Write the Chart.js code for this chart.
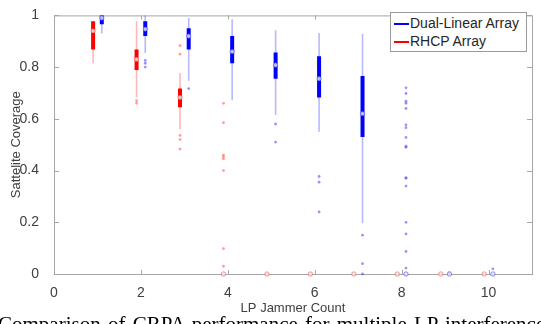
<!DOCTYPE html>
<html>
<head>
<meta charset="utf-8">
<script src="https://cdn.jsdelivr.net/npm/chart.js@4.4.1/dist/chart.umd.min.js"></script>
<style>
  html, body { margin: 0; padding: 0; background: #fff; overflow: hidden; }
  #wrap { position: relative; width: 541px; height: 324px; overflow: hidden; }
  #grafico { position: absolute; left: 0; top: 0; }
  #leyenda {
    position: absolute; left: 390px; top: 12px; width: 135px; height: 38px;
    border: 1px solid #9a9a9a; background: #fff;
    font: 14px "Liberation Sans", Arial, sans-serif; color: #262626;
  }
  #leyenda div { position: absolute; left: 19px; white-space: nowrap; }
  #leyenda span { position: absolute; left: -16px; top: 8px; width: 15px; height: 2px; }
  #caption {
    position: absolute; left: -2px; top: 314px; white-space: nowrap; word-spacing: 2px;
    font: 21px "Liberation Serif", "Times New Roman", serif; color: #000; line-height: 1;
  }
</style>
</head>
<body>
<div id="wrap">
  <canvas id="grafico" width="541" height="324"></canvas>
  <div id="leyenda">
    <div style="top:2px"><span style="background:#0000ff"></span>Dual-Linear Array</div>
    <div style="top:20px"><span style="background:#ff0000"></span>RHCP Array</div>
  </div>
  <div id="caption">Comparison of CRPA performance for multiple LP interference</div>
</div>
<script>
// datos
const conteos = [1, 2, 3, 4, 5, 6, 7, 8, 9, 10];
const ticksX = [0, 2, 4, 6, 8, 10];
const ticksY = [0, 0.2, 0.4, 0.6, 0.8, 1];
const etiquetasY = ["0", "0.2", "0.4", "0.6", "0.8", "1"];

// Dual-Linear Array
const dualMin = [0.93, 0.855, 0.747, 0.672, 0.615, 0.55, 0.196, 0, 0, 0];
const dualQ1  = [0.966, 0.92, 0.868, 0.815, 0.755, 0.683, 0.53, 0, 0, 0];
const dualMed = [0.99, 0.947, 0.92, 0.86, 0.808, 0.755, 0.62, 0, 0, 0];
const dualQ3  = [1.0, 0.977, 0.95, 0.92, 0.857, 0.842, 0.766, 0, 0, 0];
const dualMax = [1.0, 1.0, 0.99, 0.985, 0.943, 0.932, 0.928, 0, 0, 0];
const dualAtipicos = [
  [],
  [0.826, 0.815, 0.8],
  [0.717],
  [],
  [0.58, 0.51],
  [0.377, 0.355, 0.24],
  [0.15, 0.04, 0],
  [0.72, 0.698, 0.668, 0.66, 0.64, 0.577, 0.566, 0.528, 0.494, 0.49, 0.373, 0.37, 0.34, 0.2, 0.155, 0.087, 0.023],
  [0.004],
  [0.02]
];

// RHCP Array
const rhcpMin = [0.815, 0.683, 0.56, 0, 0, 0, 0, 0, 0, 0];
const rhcpQ1  = [0.868, 0.789, 0.645, 0, 0, 0, 0, 0, 0, 0];
const rhcpMed = [0.94, 0.83, 0.683, 0, 0, 0, 0, 0, 0, 0];
const rhcpQ3  = [0.977, 0.868, 0.717, 0, 0, 0, 0, 0, 0, 0];
const rhcpMax = [0.977, 0.977, 0.777, 0, 0, 0, 0, 0, 0, 0];
const rhcpAtipicos = [
  [],
  [0.67, 0.66],
  [0.883, 0.85, 0.536, 0.52, 0.483],
  [0.66, 0.585, 0.46, 0.453, 0.445, 0.4, 0.098, 0.03],
  [], [], [], [], [], []
];

const DESPLAZ = 0.1;

function segmentos(bajo, alto, off) {
  return conteos.flatMap((c, i) => [
    { x: c + off, y: bajo[i] },
    { x: c + off, y: alto[i] },
    { x: c + off, y: null }
  ]);
}

function puntos(valores, off) {
  return conteos.map((c, i) => ({ x: c + off, y: valores[i] }));
}

function atipicos(lista, off) {
  return conteos.flatMap((c, i) => lista[i].map(v => ({ x: c + off, y: v })));
}

function serie(min, q1, med, q3, max, outl, off, color, claro, tenue) {
  return [
    { data: segmentos(min, max, off), showLine: true, spanGaps: false, borderColor: claro,
      borderWidth: 1.6, pointRadius: 0, order: 3, clip: false },
    { data: segmentos(q1, q3, off), showLine: true, spanGaps: false, borderColor: color,
      borderWidth: 4, pointRadius: 0, order: 2, clip: false },
    { data: atipicos(outl, off), showLine: false, pointRadius: 1.4, pointBorderWidth: 0,
      pointBackgroundColor: tenue, order: 1, clip: false },
    { data: puntos(med, off), showLine: false, pointRadius: 2.2, pointBorderWidth: 1,
      pointBorderColor: tenue, pointBackgroundColor: "rgba(235,235,235,0.8)", order: 0, clip: false }
  ];
}

// marco estilo MATLAB con ticks hacia adentro
const marco = {
  id: "marco",
  beforeDatasetsDraw(chart) {
    const { ctx, chartArea: a, scales } = chart;
    ctx.save();
    ctx.strokeStyle = "#a6a6a6";
    ctx.lineWidth = 1;
    ctx.strokeRect(a.left + 0.5, a.top + 0.5, a.right - a.left, a.bottom - a.top);
    ctx.beginPath();
    ticksX.forEach(v => {
      const px = Math.round(scales.x.getPixelForValue(v)) + 0.5;
      ctx.moveTo(px, a.bottom); ctx.lineTo(px, a.bottom - 4);
      ctx.moveTo(px, a.top); ctx.lineTo(px, a.top + 4);
    });
    ticksY.forEach(v => {
      const py = Math.round(scales.y.getPixelForValue(v)) + 0.5;
      ctx.moveTo(a.left, py); ctx.lineTo(a.left + 5, py);
      ctx.moveTo(a.right, py); ctx.lineTo(a.right - 5, py);
    });
    ctx.stroke();
    ctx.restore();
  }
};

const fuente = { family: "'Liberation Sans', Arial, sans-serif" };

new Chart(document.getElementById("grafico"), {
  type: "scatter",
  data: {
    datasets: [
      ...serie(dualMin, dualQ1, dualMed, dualQ3, dualMax, dualAtipicos, DESPLAZ,
        "#0000ff", "rgba(0,0,255,0.28)", "rgba(60,60,255,0.55)"),
      ...serie(rhcpMin, rhcpQ1, rhcpMed, rhcpQ3, rhcpMax, rhcpAtipicos, -DESPLAZ,
        "#ff0000", "rgba(255,0,0,0.28)", "rgba(255,60,60,0.5)")
    ]
  },
  options: {
    responsive: false,
    animation: false,
    layout: { padding: { top: 8, right: 9, left: 0, bottom: 0 } },
    plugins: { legend: { display: false }, tooltip: { enabled: false } },
    scales: {
      x: {
        type: "linear", min: 0, max: 11,
        afterBuildTicks: s => { s.ticks = ticksX.map(v => ({ value: v })); },
        afterFit: s => { s.height = 50; },
        grid: { display: false }, border: { display: false },
        ticks: { color: "#404040", font: { ...fuente, size: 14 }, padding: 3 },
        title: { display: true, text: "LP Jammer Count", color: "#404040",
          font: { ...fuente, size: 13 }, padding: { top: 0, bottom: 8 } }
      },
      y: {
        min: 0, max: 1,
        afterBuildTicks: s => { s.ticks = ticksY.map(v => ({ value: v })); },
        afterFit: s => { s.width = 54; },
        grid: { display: false }, border: { display: false },
        ticks: { color: "#404040", font: { ...fuente, size: 14 }, padding: 7,
          callback: (v, i) => etiquetasY[i] },
        title: { display: true, text: "Sattelite Coverage", color: "#404040",
          font: { ...fuente, size: 13 }, padding: { top: 9, bottom: 4 } }
      }
    }
  },
  plugins: [marco]
});
</script>
</body>
</html>
